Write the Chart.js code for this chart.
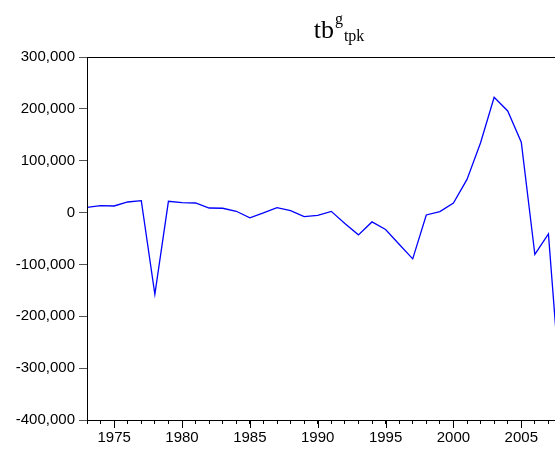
<!DOCTYPE html>
<html>
<head>
<meta charset="utf-8">
<script src="https://cdn.jsdelivr.net/npm/chart.js@4.4.0/dist/chart.umd.min.js"></script>
<style>
    html, body { margin: 0; padding: 0; background: #fff; overflow: hidden; width: 555px; height: 452px; }
    #wrap { width: 600px; height: 452px; }
</style>
</head>
<body>
<div id="wrap"><canvas id="mycanvas" width="600" height="452"></canvas></div>
<script>
// data
var years = [1973, 1974, 1975, 1976, 1977, 1978, 1979, 1980, 1981, 1982,
             1983, 1984, 1985, 1986, 1987, 1988, 1989, 1990, 1991, 1992,
             1993, 1994, 1995, 1996, 1997, 1998, 1999, 2000, 2001, 2002,
             2003, 2004, 2005, 2006, 2007, 2008];
var tbValues = [10200, 13500, 12700, 20400, 23000, -157700, 21700, 19200, 18500, 8800,
                8300, 2500, -10300, -700, 9600, 3800, -7700, -5500, 2300, -21200,
                -43000, -18000, -32700, -61000, -89200, -4600, 1900, 18500, 64000, 134600,
                222300, 196000, 135800, -80800, -41100, -380000];
var yTicks = [-400000, -300000, -200000, -100000, 0, 100000, 200000, 300000];
var xLabelEvery = 5;

var points = [];
for (var i in years) {
    points.push({ x: years[i], y: tbValues[i] });
}

// title with super/subscript, serif like the original
var serifTitle = {
    id: 'serifTitle',
    afterDraw: function (chart) {
        var ctx = chart.ctx;
        ctx.save();
        ctx.fillStyle = '#000';
        ctx.textBaseline = 'alphabetic';
        var big = '26px "Liberation Serif"', small = '16px "Liberation Serif"';
        ctx.font = big;
        var w1 = ctx.measureText('tb').width;
        ctx.font = small;
        var w2 = ctx.measureText('g').width;
        var w3 = ctx.measureText('tpk').width;
        var x = 339 - (w1 + w2 + w3 + 2) / 2;
        ctx.font = big;
        ctx.fillText('tb', x, 38);
        ctx.font = small;
        ctx.fillText('g', x + w1 + 1, 24);
        ctx.fillText('tpk', x + w1 + w2 + 2, 41);
        ctx.restore();
    }
};

// box round the plot and the long ticks at labelled years
var frame = {
    id: 'frame',
    afterDraw: function (chart) {
        var ctx = chart.ctx, a = chart.chartArea, xs = chart.scales.x;
        ctx.save();
        ctx.strokeStyle = '#000';
        ctx.lineWidth = 1;
        ctx.strokeRect(Math.round(a.left) + 0.5, Math.round(a.top) + 0.5,
                       Math.round(a.right - a.left), Math.round(a.bottom - a.top));
        ctx.beginPath();
        for (var i in years) {
            if (years[i] % xLabelEvery === 0) {
                var px = Math.round(xs.getPixelForValue(years[i])) + 0.5;
                ctx.moveTo(px, a.bottom);
                ctx.lineTo(px, a.bottom + 8);
            }
        }
        ctx.stroke();
        ctx.restore();
    }
};

var ctx = document.getElementById('mycanvas');
var myLineChart = new Chart(ctx, {
    type: 'line',
    data: {
        datasets: [{
            label: 'tb',
            data: points,
            borderColor: '#0000ff',
            borderWidth: 1.3,
            pointRadius: 0,
            tension: 0,
            fill: false
        }]
    },
    options: {
        responsive: false,
        animation: false,
        devicePixelRatio: 1,
        layout: { padding: { top: 57, right: 38, left: 0, bottom: 0 } },
        plugins: { legend: { display: false }, tooltip: { enabled: false } },
        scales: {
            x: {
                type: 'linear',
                min: years[0],
                max: years[years.length - 1],
                afterBuildTicks: function (scale) {
                    scale.ticks = years.map(function (y) { return { value: y }; });
                },
                afterFit: function (scale) { scale.height = 32; },
                border: { display: true, color: '#000', width: 1 },
                grid: { drawOnChartArea: false, drawTicks: true, tickLength: 4, tickColor: '#000' },
                ticks: {
                    padding: 5,
                    maxRotation: 0,
                    autoSkip: false,
                    color: '#000',
                    font: { family: '"Liberation Sans", Arial', size: 15 },
                    callback: function (v) { return v % xLabelEvery === 0 ? String(v) : ''; }
                }
            },
            y: {
                min: yTicks[0],
                max: yTicks[yTicks.length - 1],
                afterBuildTicks: function (scale) {
                    scale.ticks = yTicks.map(function (v) { return { value: v }; });
                },
                afterFit: function (scale) { scale.width = 87; },
                border: { display: true, color: '#000', width: 1 },
                grid: { drawOnChartArea: false, drawTicks: true, tickLength: 8, tickColor: '#555' },
                ticks: {
                    padding: 4,
                    color: '#000',
                    font: { family: '"Liberation Sans", Arial', size: 15 },
                    callback: function (v) { return v.toLocaleString('en-US'); }
                }
            }
        }
    },
    plugins: [serifTitle, frame]
});
</script>
</body>
</html>
